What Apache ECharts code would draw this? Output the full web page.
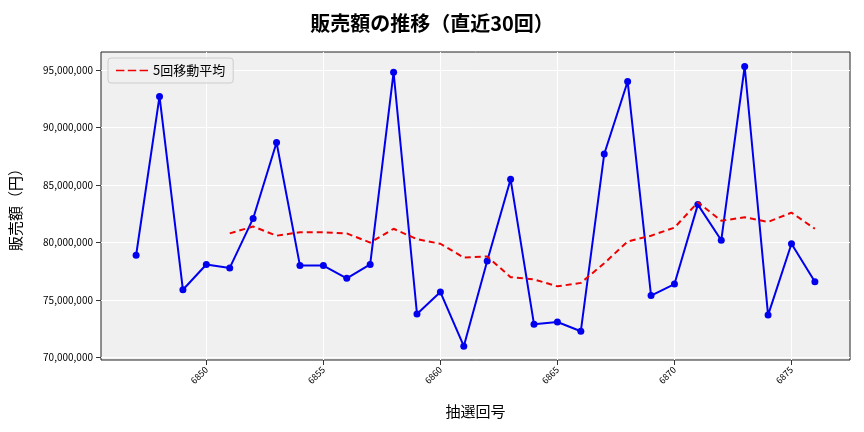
<!DOCTYPE html>
<html><head><meta charset="utf-8">
<script src="https://cdn.jsdelivr.net/npm/echarts@6/dist/echarts.min.js"></script>
<style>html,body{margin:0;padding:0;background:#fff}#c{width:864px;height:432px}</style>
</head><body><div id="c"></div>
<script>
var draws = [6847,6848,6849,6850,6851,6852,6853,6854,6855,6856,6857,6858,6859,6860,6861,6862,6863,6864,6865,6866,6867,6868,6869,6870,6871,6872,6873,6874,6875,6876];
var sales = [78.9,92.7,75.9,78.1,77.8,82.1,88.7,78.0,78.0,76.9,78.1,94.8,73.8,75.7,71.0,78.4,85.5,72.9,73.1,72.3,87.7,94.0,75.4,76.4,83.3,80.2,95.3,73.7,79.9,76.6];
var maDraws = [6851,6852,6853,6854,6855,6856,6857,6858,6859,6860,6861,6862,6863,6864,6865,6866,6867,6868,6869,6870,6871,6872,6873,6874,6875,6876];
var maValues = [80.8,81.4,80.6,80.9,80.9,80.8,80.0,81.2,80.3,79.9,78.7,78.8,77.0,76.8,76.2,76.5,78.2,80.1,80.6,81.3,83.5,81.9,82.2,81.8,82.6,81.2];
var xTicks = [6850,6855,6860,6865,6870,6875];
var yTicks = [70000000,75000000,80000000,85000000,90000000,95000000];

var font = '"Noto Sans CJK JP", "DejaVu Sans", sans-serif';
var myChart = echarts.init(document.getElementById('c'));
var option = {
    animation: false,
    textStyle: { fontFamily: font },
    title: {
        text: '販売額の推移（直近30回）', left: 'center', top: 8,
        textStyle: { fontSize: 20, fontWeight: 'bold', color: '#000', fontFamily: font }
    },
    legend: {
        left: 108, top: 58, orient: 'vertical',
        data: [{ name: '5回移動平均', icon: 'path://M0,0 L10,0 L10,2 L0,2 Z M14,0 L24,0 L24,2 L14,2 Z M28,0 L38,0 L38,2 L28,2 Z',
            itemStyle: { color: '#ee0000' } }],
        itemWidth: 32, itemHeight: 2,
        backgroundColor: 'rgba(240,240,240,0.8)', borderColor: '#ccc', borderWidth: 1,
        borderRadius: 3, padding: [6, 8],
        textStyle: { fontSize: 13, color: '#000', fontFamily: font }
    },
    grid: { left: 100, right: 14, top: 52, bottom: 72, backgroundColor: '#f0f0f0', show: true, borderColor: '#222', borderWidth: 1 },
    xAxis: {
        type: 'value', min: 6845.5, max: 6877.5,
        name: '抽選回号', nameLocation: 'middle', nameGap: 44,
        nameTextStyle: { fontSize: 15, color: '#000', fontFamily: font },
        axisLine: { show: false },
        axisTick: { show: true, customValues: xTicks, lineStyle: { color: '#333' } },
        axisLabel: { customValues: xTicks, rotate: 45, fontSize: 9, color: '#000', margin: 8,
            formatter: function (v) { return String(v); } },
        splitLine: { show: false }
    },
    yAxis: {
        type: 'value', min: 69800000, max: 96560000,
        name: '販売額（円）', nameLocation: 'middle', nameGap: 78,
        nameTextStyle: { fontSize: 15, color: '#000', fontFamily: font },
        axisLine: { show: false },
        axisTick: { show: true, customValues: yTicks, lineStyle: { color: '#333' } },
        axisLabel: { customValues: yTicks, fontSize: 10, color: '#000',
            formatter: function (v) { return v.toLocaleString('en-US'); } },
        splitLine: { show: false }
    },
    series: [
        {
            type: 'line', name: 'grid-x', silent: true, data: [], z: 1,
            markLine: { silent: true, symbol: 'none', label: { show: false }, z: 1,
                lineStyle: { color: '#fff', type: 'solid', width: 1 },
                data: xTicks.map(function (v) { return { xAxis: v }; }).concat(yTicks.map(function (v) { return { yAxis: v }; })) }
        },
        {
            type: 'line', name: '販売額', z: 5,
            data: draws.map(function (d, i) { return [d, sales[i] * 1e6]; }),
            symbol: 'circle', symbolSize: 7,
            lineStyle: { color: '#0000ee', width: 2 }, itemStyle: { color: '#0000ee' }
        },
        {
            type: 'line', name: '5回移動平均', z: 6,
            data: maDraws.map(function (d, i) { return [d, maValues[i] * 1e6]; }),
            symbol: 'none',
            lineStyle: { color: '#ee0000', width: 2, type: [6, 4] }, itemStyle: { color: '#ee0000' }
        }
    ]
};
myChart.setOption(option);
</script></body></html>
